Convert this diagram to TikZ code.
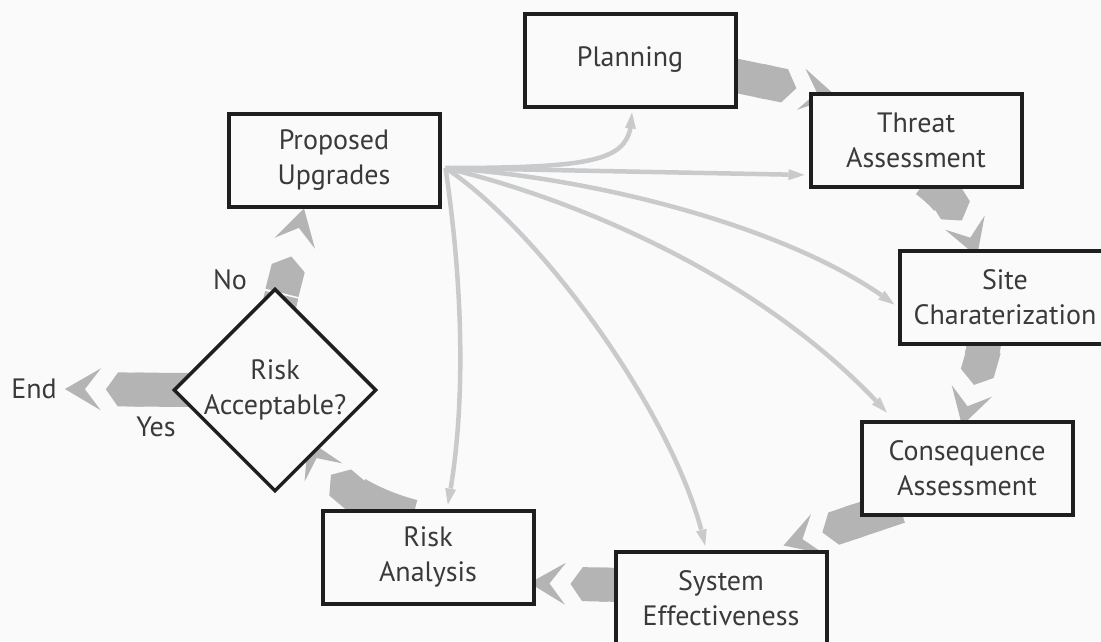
\documentclass[tikz,border=0pt]{standalone}
\usepackage{fontspec}
\setmainfont{PT Sans}
\usetikzlibrary{arrows.meta,bending,shapes.geometric,backgrounds}
\definecolor{pagebg}{HTML}{FAFAFA}
\definecolor{boxline}{HTML}{1E1E1E}
\definecolor{textgray}{HTML}{3A3A3A}
\definecolor{flowgray}{HTML}{B4B4B4}
\definecolor{feedgray}{HTML}{C9CACC}
\newcommand\boxfont{\fontsize{28}{35}\selectfont}
\tikzset{
  box/.style={draw=boxline, line width=4pt, fill=pagebg, minimum width=211pt, minimum height=93pt, inner sep=2pt, align=center, text=textgray, font=\boxfont},
  decision/.style={diamond, draw=boxline, line width=3.5pt, fill=pagebg, minimum width=200pt, minimum height=200pt, inner sep=0pt, align=center, text=textgray, font=\boxfont},
  lbl/.style={text=textgray, font=\boxfont, inner sep=3pt},
  flow/.style={draw=flowgray, line width=34pt, -{Triangle Cap[length=12pt,sep=5pt] . Stealth[length=36pt,width=42pt,inset=16pt,line width=0pt,flex]}},
  feed/.style={draw=feedgray, line width=4.5pt, shorten >=4pt, -{Triangle[length=16pt,width=11pt,line width=0pt]}}
}
\begin{document}
\begin{tikzpicture}[x=1pt,y=-1pt]
\useasboundingbox (0,0) rectangle (1101,641);
\node[box] (plan) at (630,60) {Planning};
\node[box] (threat) at (916,140) {Threat\\Assessment};
\node[box] (site) at (1005,297) {Site\\Charaterization};
\node[box] (cons) at (967,468) {Consequence\\Assessment};
\node[box] (sys) at (721,598) {System\\Effectiveness};
\node[box] (risk) at (428,557) {Risk\\Analysis};
\node[decision] (dec) at (275,390) {Risk\\Acceptable?};
\node[box] (prop) at (334,160) {Proposed\\Upgrades};
\node[lbl] (endl) at (34,389) {End};
\node[lbl] (no) at (230,280) {No};
\node[lbl] (yes) at (156,427) {Yes};
\coordinate (fan) at ([xshift=4pt,yshift=-8pt]prop.east);
\begin{pgfonlayer}{background}
\fill[pagebg] (0,0) rectangle (1101,641);
\draw[flow] ([xshift=-10pt,yshift=-14pt]plan.east) -- ([xshift=28pt,yshift=-5pt]threat.north west);
\draw[flow] ([xshift=10pt,yshift=8pt]threat.south) .. controls +(25,18) and +(-10,-33) .. ([xshift=-28pt,yshift=-8pt]site.north);
\draw[flow] ([xshift=-20pt,yshift=10pt]site.south) .. controls +(-2,25) and +(8,-30) .. ([xshift=-5pt,yshift=-6pt]cons.north);
\draw[flow] ([xshift=40pt,yshift=10pt]cons.south west) -- ([xshift=-45pt,yshift=4pt]sys.north east);
\draw[flow] ([xshift=10pt,yshift=13pt]sys.west) -- ([xshift=-6pt,yshift=-26pt]risk.east);
\draw[flow] ([xshift=-15pt,yshift=-8pt]risk.north) .. controls +(-40,-10) and +(12,40) .. ([xshift=33pt,yshift=-50pt]dec.center);
\draw[flow] ([yshift=-40pt]dec.north) .. controls +(5,-30) and +(-8,30) .. ([xshift=-30pt]prop.south);
\draw[flow] ([xshift=20pt]dec.west) -- ([xshift=5pt]endl.east);
\draw[feed] (fan) .. controls (615,168) and (632,158) .. ([xshift=2pt]plan.south);
\draw[feed] (fan) -- ([yshift=-35pt]threat.west);
\draw[feed] (fan) .. controls (600,178) and (800,230) .. ([yshift=-10pt]site.west);
\draw[feed] (fan) .. controls (560,195) and (760,270) .. ([xshift=30pt,yshift=4pt]cons.north west);
\draw[feed] (fan) .. controls (540,230) and (680,420) .. ([xshift=-15pt]sys.north);
\draw[feed] (fan) .. controls (465,300) and (465,420) .. ([xshift=19pt]risk.north);
\end{pgfonlayer}
\end{tikzpicture}
\end{document}
